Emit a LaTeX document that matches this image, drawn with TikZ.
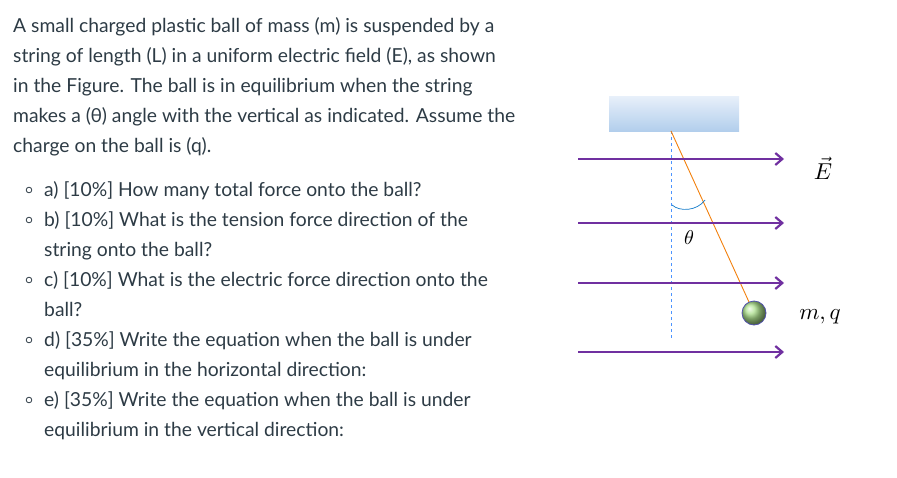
\documentclass[tikz,border=0pt]{standalone}
\usepackage{fontspec}
\setmainfont{Lato}
\usetikzlibrary{arrows.meta}
\definecolor{txt}{RGB}{45,59,69}
\definecolor{fld}{RGB}{112,48,160}
\definecolor{ceilt}{RGB}{232,240,250}
\definecolor{ceilb}{RGB}{178,206,236}
\begin{document}
\begin{tikzpicture}[x=1pt,y=-1pt,
 tl/.style={anchor=base west,inner sep=0,text=txt,font=\fontsize{19.3}{22}\selectfont},
 fl/.style={fld,line width=2.6pt,-{Straight Barb[length=7pt,width=12pt,line width=2.2pt]}}]
\useasboundingbox (0,0) rectangle (897,477);
\foreach \t [count=\i] in {A small charged plastic ball of mass (m) is suspended by a,
 string of length (L) in a uniform electric field (E){,} as shown,
 in the Figure. The ball is in equilibrium when the string,
 makes a (θ) angle with the vertical as indicated. Assume the,
 charge on the ball is (q).}
 \node[tl] (p\i) at (13,{2+30*\i}) {\t};
\foreach \t [count=\i] in {a) [10\%] How many total force onto the ball?,
 b) [10\%] What is the tension force direction of the,
 string onto the ball?,
 c) [10\%] What is the electric force direction onto the,
 ball?,
 d) [35\%] Write the equation when the ball is under,
 equilibrium in the horizontal direction:,
 e) [35\%] Write the equation when the ball is under,
 equilibrium in the vertical direction:}
 \node[tl] (q\i) at (44,{166+30*\i}) {\t};
\foreach \i in {1,2,4,6,8}
 \draw[txt,line width=0.8pt] (29,{160+30*\i}) circle (2.8);
% figure
\shade[top color=ceilt,bottom color=ceilb] (609,96) rectangle (739,131);
\coordinate (piv) at (671,131);
\node[circle,minimum size=24pt,inner sep=0,ball color=green!45!olive!45!white,draw=blue!35!gray,line width=0.8pt] (ball) at (754,313) {};
\draw[blue!60!cyan!70,dashed,line width=0.6pt] (piv) -- (671,338);
\draw[orange!80!brown,line width=0.9pt] (piv) -- (ball);
\draw[cyan!60!blue,line width=0.7pt] (672,205) .. controls (680,212) and (697,211) .. (705,200);
\foreach \y/\n in {159/a,223/b,283/c,352/d}{
 \coordinate (s\n) at (578,\y); \coordinate (e\n) at (784,\y);
 \draw[fl] (s\n) -- (e\n);}
\node (th) at (689,238) {\scalebox{2}{$\theta$}};
\node (E) at (823,168) {\scalebox{2.3}{$\vec{E}$}};
\node (mq) at (820,317) {\scalebox{2.3}{$m,q$}};
\end{tikzpicture}
\end{document}
